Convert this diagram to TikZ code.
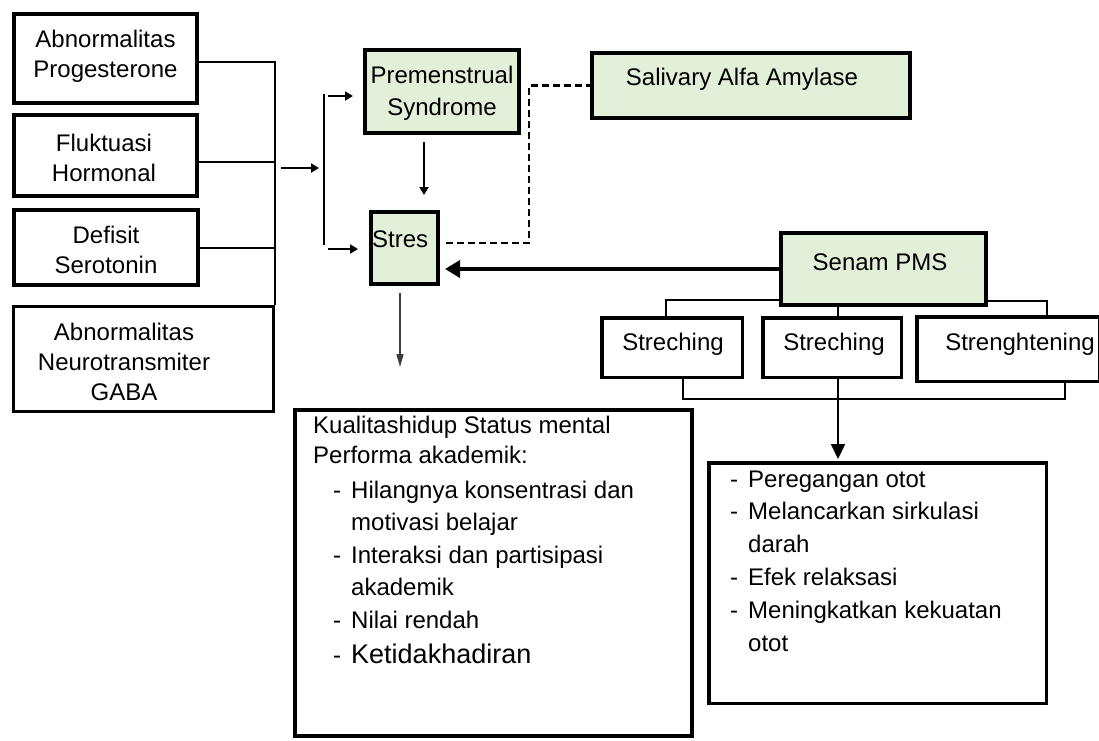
\documentclass[tikz,border=0pt]{standalone}
\usepackage{fontspec}
\setmainfont{Liberation Sans}
\usetikzlibrary{arrows.meta}
\definecolor{boxgreen}{HTML}{E2EFD9}
\definecolor{thingray}{HTML}{3C3C3C}
\newcommand{\lstdash}{\makebox[18pt][l]{-}}
\begin{document}
\begin{tikzpicture}[x=1pt,y=-1pt,
  box/.style={draw=black,line width=4pt,fill=white,inner sep=0pt},
  gbox/.style={box,fill=boxgreen},
  sbox/.style={box,line width=3.5pt},
  txt/.style={inner sep=0pt,font=\fontsize{24}{30}\selectfont,align=center,anchor=base},
  lst/.style={inner sep=0pt,align=left,anchor=base west},
  conn/.style={line width=2pt},
  arr/.style={line width=2pt,-{Triangle[length=8pt,width=9pt]}},
  bigarr/.style={line width=3.5pt,-{Triangle[length=15pt,width=17pt]}},
  midarr/.style={line width=2pt,-{Triangle[length=15pt,width=14pt]}},
  thinarr/.style={line width=1.3pt,draw=thingray,-{Triangle[length=13pt,width=7pt]}},
  dashc/.style={line width=2.5pt,dash pattern=on 7pt off 4pt}
]
\useasboundingbox (0,0) rectangle (1099,740);

% left boxes
\node[box,minimum width=183pt,minimum height=89pt] (b1) at (105.5,58.5) {};
\node[box,minimum width=183pt,minimum height=81pt] (b2) at (105.5,155.5) {};
\node[box,minimum width=184pt,minimum height=75pt] (b3) at (106,247.5) {};
\node[box,line width=3pt,minimum width=260pt,minimum height=105pt] (b4) at (143.5,359) {};

% middle boxes
\node[gbox,minimum width=154pt,minimum height=83pt] (pms) at (442,91.5) {};
\node[gbox,minimum width=67pt,minimum height=72pt] (stres) at (404.5,248) {};
\node[gbox,minimum width=318pt,minimum height=65pt] (sal) at (751,85.5) {};
\node[gbox,minimum width=205pt,minimum height=72pt] (senam) at (883.5,269) {};

% exercise boxes
\node[sbox,minimum width=140.5pt,minimum height=59.5pt] (s1) at (672,347.5) {};
\node[sbox,minimum width=138.5pt,minimum height=59.5pt] (s2) at (832,347.5) {};
\node[sbox,minimum width=182.5pt,minimum height=64.5pt] (s3) at (1008,349) {};

% bottom boxes
\node[box,minimum width=397pt,minimum height=326pt] (lb) at (493.5,573) {};
\node[sbox,minimum width=337.5pt,minimum height=240.5pt] (rb) at (877.5,583) {};

% texts (anchor base = baseline of the last line)
\node[txt] (b1t) at (105.5,77) {Abnormalitas\\Progesterone};
\node[txt] (b2t) at (104,181.5) {Fluktuasi\\Hormonal};
\node[txt] (b3t) at (106,273.5) {Defisit\\Serotonin};
\node[txt] (b4t) at (124,400) {Abnormalitas\\Neurotransmiter\\GABA};
\node[txt,font=\fontsize{24}{32}\selectfont] (pmst) at (442,115) {Premenstrual\\Syndrome};
\node[txt,anchor=base west] (strest) at (372,247) {Stres};
\node[txt] (salt) at (742,85) {Salivary Alfa Amylase};
\node[txt] (senamt) at (880,270) {Senam PMS};
\node[txt] (s1t) at (673,350) {Streching};
\node[txt] (s2t) at (834,350) {Streching};
\node[txt] (s3t) at (1020,350) {Strenghtening};

\node[lst,font=\fontsize{24}{32.5}\selectfont] (lbt) at (313,663) {Kualitashidup Status mental\\[-2.5pt]
Performa akademik:\\[2.5pt]
\hspace*{20pt}\lstdash Hilangnya konsentrasi dan\\
\hspace*{38pt}motivasi belajar\\
\hspace*{20pt}\lstdash Interaksi dan partisipasi\\
\hspace*{38pt}akademik\\
\hspace*{20pt}\lstdash Nilai rendah\\[2.5pt]
\hspace*{20pt}\lstdash{\fontsize{27}{32.5}\selectfont Ketidakhadiran}};

\node[lst,font=\fontsize{24}{32.8}\selectfont] (rbt) at (730,651) {\lstdash Peregangan otot\\
\lstdash Melancarkan sirkulasi\\
\hspace*{18pt}darah\\
\lstdash Efek relaksasi\\
\lstdash Meningkatkan kekuatan\\
\hspace*{18pt}otot};

% left bracket
\draw[conn] ([yshift=-3.5pt]b1.east) -| (b4.north east);
\draw[conn] ([yshift=-6.5pt]b2.east) -- ([yshift=-6.5pt]b2.east -| b4.north east);
\draw[conn] (b3.east) -- (b3.east -| b4.north east);

% free arrows
\coordinate (m1) at (281,168);
\coordinate (m2) at (319,168);
\draw[arr] (m1) -- (m2);
\coordinate (v1) at (324,94);
\coordinate (v2) at (324,245);
\draw[line width=2.5pt] (v1) -- (v2);
\coordinate (u1) at (328,96);
\coordinate (u2) at (353,96);
\draw[arr] (u1) -- (u2);
\coordinate (w1) at (328,249);
\coordinate (w2) at (358,249);
\draw[arr] (w1) -- (w2);

% PMS -> Stres
\draw[arr] ([xshift=-18pt,yshift=-7pt]pms.south) -- ([xshift=19.5pt,yshift=15pt]stres.north);

% Stres down
\draw[thinarr] ([xshift=-4.5pt,yshift=-7pt]stres.south) -- ([xshift=-4.5pt,yshift=-81pt]stres.south);

% dashed Stres - Salivary
\draw[dashc] ([xshift=6pt,yshift=5pt]stres.east) -| ([xshift=-61pt]sal.west) -- (sal.west);

% Senam -> Stres
\path (stres.east |- senam.west) coordinate (tipS);
\draw[bigarr] (senam.west) -- ([xshift=5pt]tipS);

% Senam branches
\draw[conn] ([yshift=-31pt]senam.west) -| ([xshift=-6pt]s1.north);
\draw[conn] ([yshift=-32pt]senam.east) -| ([xshift=39pt]s3.north);
\draw[conn] ([xshift=-45.5pt]senam.south) -- ([xshift=6pt]s2.north);
\draw[conn] ([xshift=11pt]s1.south) |- ([xshift=57pt,yshift=-16pt]s3.south) -- ([xshift=57pt]s3.south);

% to right list box
\path ([xshift=6pt]s2.south |- rb.north) coordinate (tipR);
\draw[midarr] ([xshift=6pt]s2.south) -- ([yshift=2pt]tipR);
\end{tikzpicture}
\end{document}
